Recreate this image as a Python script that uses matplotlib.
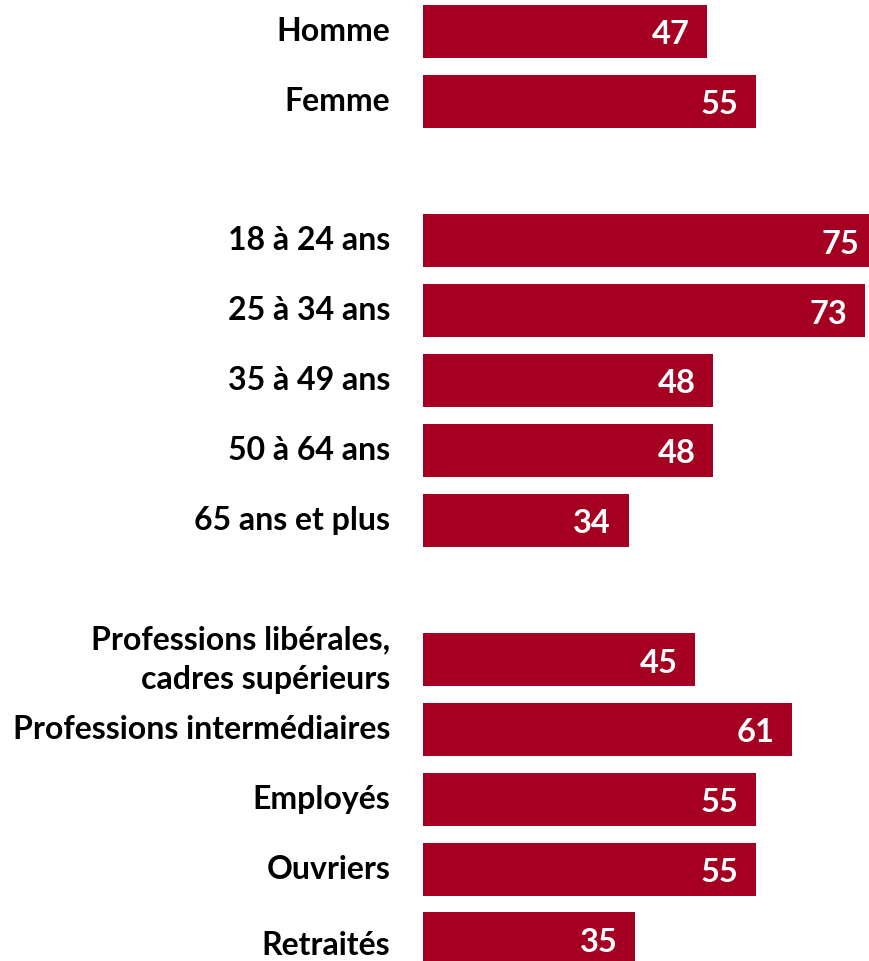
import matplotlib
matplotlib.use("Agg")
import matplotlib.pyplot as plt

categories = ["Homme", "Femme", "",
              "18 à 24 ans", "25 à 34 ans", "35 à 49 ans", "50 à 64 ans", "65 ans et plus", "",
              "Professions libérales,\ncadres supérieurs", "Professions intermédiaires",
              "Employés", "Ouvriers", "Retraités"]
values = [47, 55, None, 75, 73, 48, 48, 34, None, 45, 61, 55, 55, 35]

color = "#A50021"
font = "Lato"

fig = plt.figure(figsize=(8.69, 9.61), dpi=100)
ax = fig.add_axes([423 / 869, 0, 1 - 423 / 869, 1])
ax.set_xlim(0, (869 - 423) / 6.05)
ax.set_ylim(13.317, -0.451)
ax.axis("off")

for i, (c, v) in enumerate(zip(categories, values)):
    if v is None:
        continue
    ax.barh(i, v, height=0.76, color=color, clip_on=True)
    ax.text(v - 2.9, i + 0.05, str(v), ha="right", va="center", color="white",
            fontsize=23.5, fontweight="bold", family=font, clip_on=False)
    dy = 0.1 if i == len(categories) - 1 else 0.0
    ax.text(-5.4, i + dy, c, ha="right", va="center", color="black",
            fontsize=23, fontweight="bold", family=font, clip_on=False,
            linespacing=1.42)

fig.savefig("out.png", dpi=100)
